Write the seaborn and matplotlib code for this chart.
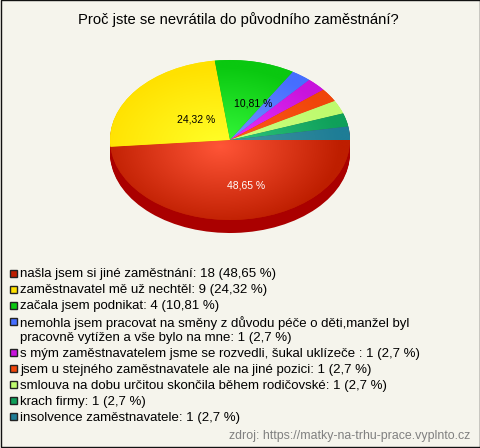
import numpy as np
import matplotlib
matplotlib.use('Agg')
import matplotlib.pyplot as plt
from matplotlib.patches import Rectangle
import seaborn as sns

# answers and counts
title = 'Proč jste se nevrátila do původního zaměstnání?'
categories = ['našla jsem si jiné zaměstnání',
              'zaměstnavatel mě už nechtěl',
              'začala jsem podnikat',
              'nemohla jsem pracovat na směny z důvodu péče o děti,manžel byl\npracovně vytížen a vše bylo na mne',
              's mým zaměstnavatelem jsme se rozvedli, šukal uklízeče ',
              'jsem u stejného zaměstnavatele ale na jiné pozici',
              'smlouva na dobu určitou skončila během rodičovské',
              'krach firmy',
              'insolvence zaměstnavatele']
counts = [18, 9, 4, 1, 1, 1, 1, 1, 1]
percents = ['48,65', '24,32', '10,81', '2,7', '2,7', '2,7', '2,7', '2,7', '2,7']
source = 'zdroj: https://matky-na-trhu-prace.vyplnto.cz'

# slice colours, edge of the pie and centre of the pie
edge_colors = ['#BE1E00', '#FFE100', '#0AC810', '#466EFF', '#C814DC', '#F0460A', '#BEFA6E', '#0FA05A', '#1E7D96']
center_colors = ['#FF5537', '#FFFF28', '#37FA3C', '#7896FF', '#EB32FF', '#FF5A1E', '#CDFF82', '#32C882', '#4696A0']
side_color = '#AA0000'
bg_color = '#F5F4EC'

sns.set_theme(style='white')
plt.rcParams['font.family'] = ['Liberation Sans', 'DejaVu Sans']

W, H = 480, 448
fig = plt.figure(figsize=(W / 100, H / 100), dpi=100, facecolor=bg_color)

# overlay in pixel coordinates for the texts and legend
page = fig.add_axes([0, 0, 1, 1])
page.set_xlim(0, W)
page.set_ylim(H, 0)
page.axis('off')
page.add_patch(Rectangle((0.5, 0.5), W - 1, H - 1, facecolor=bg_color, edgecolor='#111111', lw=1))
page.text(238, 20, title, ha='center', va='center', fontsize=10.6, color='black')

# pie axes, 240 x 160 px ellipse plus the side below it
ax = fig.add_axes([110 / W, (H - 233) / H, 240 / W, 173 / H])
ax.patch.set_alpha(0)
depth = 13 / 80
flat = {'linewidth': 0, 'edgecolor': 'none'}

# side of the pie
for d in np.linspace(depth, 0.01, 14):
    ax.pie(counts, colors=[side_color] * len(counts), center=(0, -d), radius=1,
           startangle=0, counterclock=False, normalize=True, wedgeprops=flat)

wedges, _ = ax.pie(counts, colors=edge_colors, radius=1, startangle=0,
                   counterclock=False, normalize=True, wedgeprops=flat)

# radial gradient inside each slice
gx, gy = np.meshgrid(np.linspace(-1, 1, 300), np.linspace(1, -1, 300))
dist = np.clip(np.hypot(gx + 0.08, gy + 0.08), 0, 1)[..., None]
for w, c_edge, c_mid in zip(wedges, edge_colors, center_colors):
    a = np.array(matplotlib.colors.to_rgb(c_edge))
    b = np.array(matplotlib.colors.to_rgb(c_mid))
    im = ax.imshow(b + (a - b) * dist, extent=(-1, 1, -1, 1), aspect='auto', zorder=3)
    im.set_clip_path(w)

ax.set_aspect('auto')
ax.set_xlim(-1, 1)
ax.set_ylim(-1 - depth, 1)
ax.axis('off')

# percentage labels on the biggest slices
page.set_zorder(0)
ax.set_zorder(1)
ax.text(16 / 120, -46 / 80, percents[0] + ' %', color='white', ha='center', va='center', fontsize=7.5, zorder=5)
ax.text(-34 / 120, 20 / 80, percents[1] + ' %', color='black', ha='center', va='center', fontsize=7.5, zorder=5)
ax.text(23 / 120, 37 / 80, percents[2] + ' %', color='black', ha='center', va='center', fontsize=7.5, zorder=5)

# legend
y = 275.5
for cat, n, pct, col in zip(categories, counts, percents, edge_colors):
    page.add_patch(Rectangle((9.5, y - 5.5), 7, 7, facecolor=col, edgecolor='#222222', lw=1))
    page.text(20, y - 7, f'{cat}: {n} ({pct} %)', ha='left', va='top', fontsize=9.5,
              color='black', linespacing=1.2)
    y += 16 + 15.5 * cat.count('\n')

page.text(470, 436, source, ha='right', va='center', fontsize=8.9, color='#808080')

fig.savefig('out.png', dpi=100, facecolor=bg_color)
